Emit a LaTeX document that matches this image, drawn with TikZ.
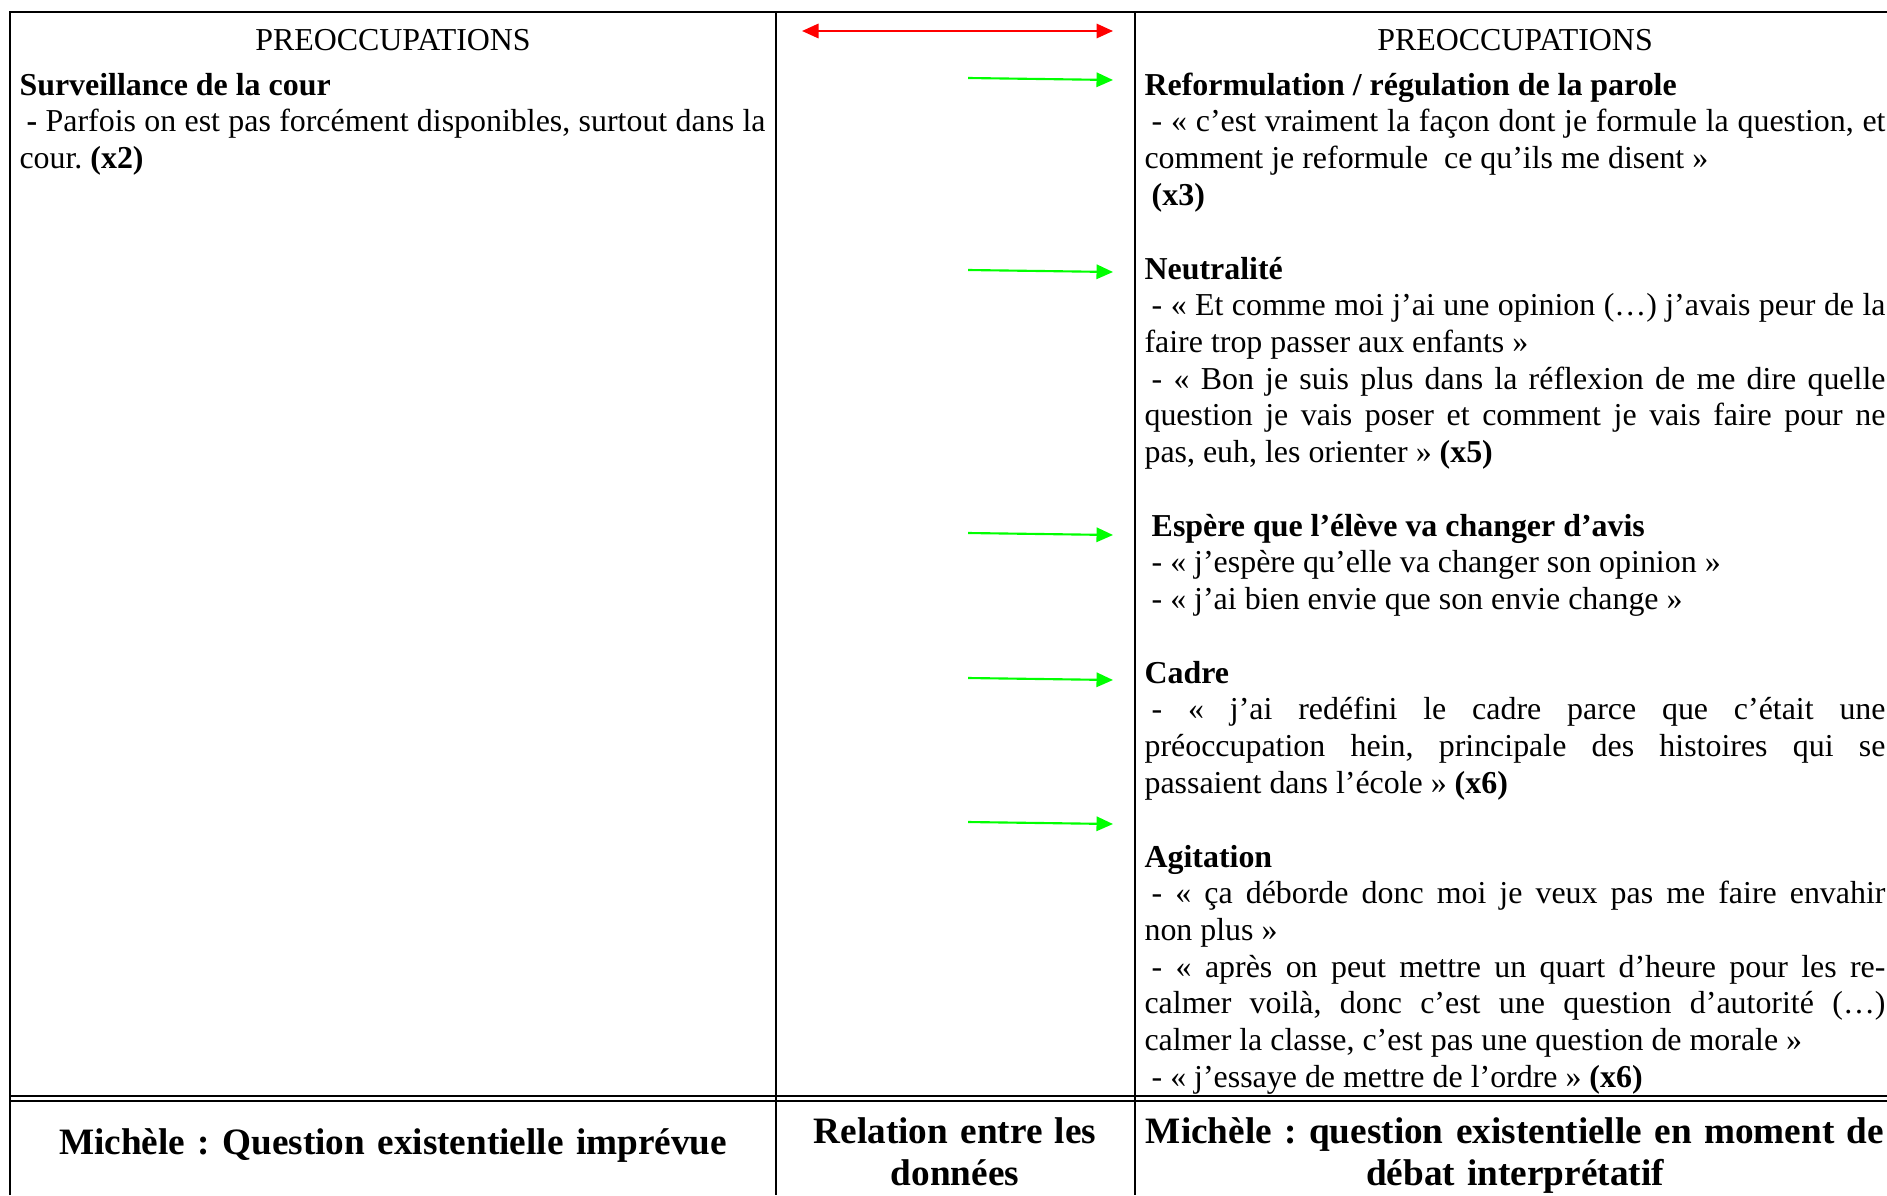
\documentclass[tikz,border=0pt]{standalone}
\usepackage{fontspec}
\setmainfont{Liberation Serif}
\usepackage{tikz}
\usetikzlibrary{arrows.meta}
\usetikzlibrary{positioning}
\definecolor{linkgreen}{RGB}{0,255,0}
\definecolor{linkred}{RGB}{255,0,0}
\newcommand{\dashind}{\hspace*{2.7pt}}
\frenchspacing
\tolerance=10000
\hyphenpenalty=10000

\begin{document}
\begin{tikzpicture}[x=0.376pt, y=-0.376pt,
    rule/.style={line width=0.75pt, black},
    link/.style={line width=0.8pt, linkgreen, -{Triangle[length=6.2pt,width=5.4pt]}},
    both/.style={line width=0.8pt, linkred, {Triangle[length=6.2pt,width=5.4pt]}-{Triangle[length=6.2pt,width=5.4pt]}},
    colhead/.style={inner sep=0pt, anchor=base, font=\fontsize{12}{13.8}\selectfont},
    cell/.style={inner sep=0pt, anchor=base west, align=justify,
      font=\fontsize{12}{13.8}\selectfont},
    foot/.style={inner sep=0pt, anchor=base, align=center, text width=284pt,
      font=\fontsize{14}{15.8}\selectfont\bfseries}]
  \useasboundingbox (0,0) rectangle (1887,1195);

  % grid of the table
  \draw[rule] (10,1195) -- (10,12) -- (1887,12);
  \draw[rule] (776,12) -- (776,1195);
  \draw[rule] (1135,12) -- (1135,1195);
  \draw[rule] (10,1096) -- (1887,1096);
  \draw[rule] (10,1101) -- (1887,1101);

  % column heads
  \node[colhead] (leftHead) at (393,50) {PREOCCUPATIONS};
  \node[colhead] (rightHead) at (1515,50) {PREOCCUPATIONS};

  % left column
  \node[cell, text width=280.5pt] (cour) at (19,95)
    {\textbf{Surveillance de la cour}\\
     \dashind\textbf{-} Parfois on est pas forcément disponibles, surtout dans la\linebreak
     cour. \textbf{(x2)}};

  % right column
  \node[cell, text width=278.6pt] (reform) at (1144,95)
    {\textbf{Reformulation / régulation de la parole}\\
     \dashind- «~c’est vraiment la façon dont je formule la question, et\linebreak
     comment je reformule~ ce qu’ils me disent~»\\
     \dashind\textbf{(x3)}};
  \node[cell, text width=278.6pt] (neutre) at (1144,279)
    {\textbf{Neutralité}\\
     \dashind- «~Et comme moi j’ai une opinion (…) j’avais peur de la\linebreak
     faire trop passer aux enfants~»\\
     \dashind- «~Bon je suis plus dans la réflexion de me dire quelle\linebreak
     question je vais poser et comment je vais faire pour ne\linebreak
     pas, euh, les orienter~» \textbf{(x5)}};
  \node[cell, text width=278.6pt] (avis) at (1144,536)
    {\dashind\textbf{Espère que l’élève va changer d’avis}\\
     \dashind- «~j’espère qu’elle va changer son opinion~»\\
     \dashind- «~j’ai bien envie que son envie change~»};
  \node[cell, text width=278.6pt] (cadre) at (1144,683)
    {\textbf{Cadre}\\
     \dashind- «~j’ai redéfini le cadre parce que c’était une\linebreak
     préoccupation hein, principale des histoires qui se\linebreak
     passaient dans l’école~» \textbf{(x6)}};
  \node[cell, text width=278.6pt] (agit) at (1144,867)
    {\textbf{Agitation}\\
     \dashind- «~ça déborde donc moi je veux pas me faire envahir\linebreak
     non plus~»\\
     \dashind- «~après on peut mettre un quart d’heure pour les re-\linebreak
     calmer voilà, donc c’est une question d’autorité (…)\linebreak
     calmer la classe, c’est pas une question de morale~»\\
     \dashind- «~j’essaye de mettre de l’ordre~» \textbf{(x6)}};

  % relations
  \coordinate (redL) at (802,31);
  \coordinate (redR) at (1113,31);
  \draw[both] (redL) -- (redR);
  \foreach \y/\n in {79/1, 271/2, 534/3, 679/4, 823/5} {
    \coordinate (from\n) at (968,\y-1);
    \coordinate (to\n) at (1113,\y+1);
    \draw[link] (from\n) -- (to\n);
  }

  % bottom row
  \node[foot] (titleLeft) at (393,1154) {Michèle : Question existentielle imprévue};
  \node[foot, text width=130pt] (titleMid) at (955,1143) {Relation entre les\\données};
  \node[foot] (titleRight) at (1515,1143)
    {Michèle : question existentielle en moment de\\débat interprétatif};
\end{tikzpicture}
\end{document}
